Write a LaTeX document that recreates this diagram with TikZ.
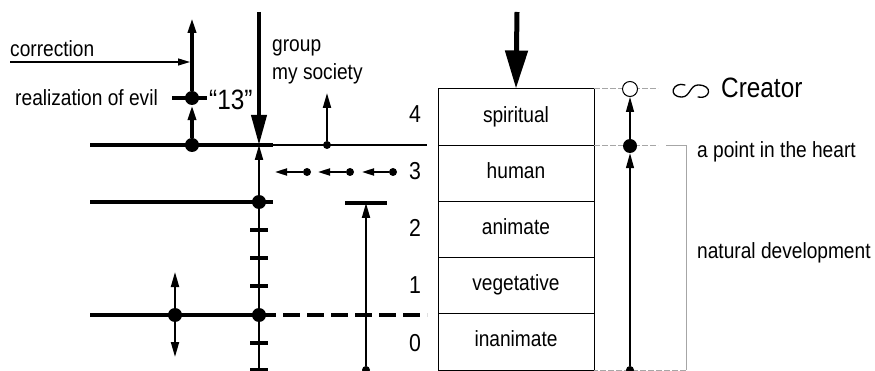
\documentclass[tikz,border=0pt]{standalone}
\usepackage{fontspec}
\setmainfont[FakeStretch=0.87]{Liberation Sans}
\usetikzlibrary{arrows.meta}
\begin{document}
\begin{tikzpicture}[x=1pt,y=-1pt,
  txt/.style={font=\fontsize{22}{25}\selectfont, inner sep=0pt},
  num/.style={font=\fontsize{24.5}{27}\selectfont, inner sep=0pt},
  row/.style={draw, line width=1pt, minimum width=156pt, minimum height=56.2pt, inner sep=0pt, text height=15pt, text depth=5pt, font=\fontsize{22}{25}\selectfont},
  bigdot/.style={circle, fill, inner sep=0pt, minimum size=14pt},
  smalldot/.style={circle, fill, inner sep=0pt, minimum size=8pt},
  opendot/.style={circle, draw, fill=white, line width=1pt, inner sep=0pt, minimum size=15pt},
  heavy/.style={line width=3.5pt},
  light/.style={line width=2pt},
  fine/.style={line width=1.2pt},
  greyline/.style={gray!70, line width=1pt},
  greydash/.style={gray!70, line width=1pt, dash pattern=on 6pt off 2pt},
  bigtip/.style={-{Triangle[length=38pt,width=22pt]}},
  medtip/.style={-{Triangle[length=30pt,width=15pt]}},
  smalltip/.style={-{Triangle[length=15pt,width=8pt]}},
  tinytip/.style={-{Triangle[length=12pt,width=7pt]}}
]
\useasboundingbox (0,0) rectangle (875,371);

% stack of levels
\node[row] (r4) at (516,117.1) {spiritual};
\node[row] (r3) at (516,173.3) {human};
\node[row] (r2) at (516,229.5) {animate};
\node[row] (r1) at (516,285.7) {vegetative};
\node[row] (r0) at (516,341.9) {inanimate};
\coordinate (topa) at (517,12);
\draw[line width=5pt, bigtip] (topa) -- (r4.north);

% level numbers
\node[num, anchor=base] (n4) at (415,123) {4};
\node[num, anchor=base] (n3) at (415,180) {3};
\node[num, anchor=base] (n2) at (415,237) {2};
\node[num, anchor=base] (n1) at (415,294) {1};
\node[num, anchor=base] (n0) at (415,351) {0};

% horizontal lines
\coordinate (l4a) at (90,145);
\coordinate (l4b) at (273,145);
\coordinate (l4c) at (427,145);
\draw[heavy] (l4a) -- (l4b);
\draw[light] (l4b) -- (l4c);
\coordinate (l2a) at (90,202);
\coordinate (l2b) at (273,202);
\draw[heavy] (l2a) -- (l2b);
\coordinate (l0a) at (90,315);
\coordinate (l0b) at (259,315);
\coordinate (l0c) at (427,315);
\draw[heavy] (l0a) -- (l0b);
\draw[heavy, dash pattern=on 17pt off 7pt] (l0b) -- (l0c);

% left column: realization of evil / correction
\node[bigdot] (A) at (192,145) {};
\node[bigdot] (B) at (192,98) {};
\coordinate (Bl) at (172,98);
\coordinate (Br) at (207,98);
\draw[heavy] (Bl) -- (Br);
\coordinate (Btop) at (192,18);
\draw[heavy, smalltip] (A) -- (B);
\draw[heavy, smalltip] (B) -- (Btop);
\coordinate (corrA) at (10,62);
\coordinate (corrB) at (190,62);
\draw[fine, tinytip] (corrA) -- (corrB);
\node[txt, anchor=base west] (tcorr) at (10,57) {correction};
\node[txt, anchor=base east] (tevil) at (158,106) {realization of evil};
\node[num, anchor=base west, font=\fontsize{28}{30}\selectfont] (t13) at (209,110) {“13”};

% group arrow
\coordinate (gtop) at (259,12);
\coordinate (J) at (259,145);
\draw[line width=4pt, medtip] (gtop) -- (J);
\node[txt, anchor=base west] (tgroup) at (272,52) {group};
\node[txt, anchor=base west] (tsoc) at (272,80) {my society};

% vertical scale at x=259
\coordinate (vbot) at (259,370);
\draw[light, smalltip] (vbot) -- (J);
\foreach \yy in {230,258,286,343,370} {
  \coordinate (ta\yy) at (250,\yy);
  \coordinate (tb\yy) at (268,\yy);
  \draw[heavy] (ta\yy) -- (tb\yy);
}
\node[bigdot] (C) at (259,202) {};
\node[bigdot] (D) at (259,315) {};

% double arrow at x=175
\node[bigdot] (E) at (175,315) {};
\coordinate (Eup) at (175,272);
\coordinate (Edn) at (175,357);
\draw[light, smalltip] (E) -- (Eup);
\draw[light, smalltip] (E) -- (Edn);

% society up arrow
\node[smalldot] (S) at (327,145) {};
\coordinate (Stop) at (327,93);
\draw[light, smalltip] (S) -- (Stop);

% small leftward arrows at level 3
\node[smalldot] (h1) at (393,172) {};
\coordinate (h1t) at (362,172);
\node[smalldot] (h2) at (350,172) {};
\coordinate (h2t) at (318,172);
\node[smalldot] (h3) at (307,172) {};
\coordinate (h3t) at (275,172);
\draw[light, tinytip] (h1) -- (h1t);
\draw[light, tinytip] (h2) -- (h2t);
\draw[light, tinytip] (h3) -- (h3t);

% arrow at x=366 up to bar
\node[smalldot] (Q) at (366,370) {};
\coordinate (Qt) at (366,203);
\coordinate (Qa) at (345,203);
\coordinate (Qb) at (387,203);
\draw[light, smalltip] (Q) -- (Qt);
\draw[heavy] (Qa) -- (Qb);

% right side
\coordinate (g1a) at (594,89);
\coordinate (g1b) at (658,89);
\draw[greydash] (g1a) -- (g1b);
\coordinate (g2a) at (594,146);
\coordinate (g2b) at (658,146);
\draw[greydash] (g2a) -- (g2b);
\coordinate (br1) at (666,146);
\coordinate (br2) at (686,146);
\coordinate (br3) at (686,370);
\coordinate (br4) at (594,370);
\draw[greyline] (br1) -- (br2) -- (br3);
\draw[greydash] (br3) -- (br4);

\node[opendot] (O) at (630,89) {};
\node[bigdot] (P) at (630,146) {};
\node[smalldot] (R) at (630,370) {};
\draw[fine, smalltip] (R) -- (P);
\draw[fine, smalltip] (P) -- (O);

% inverted lazy s sign
\coordinate (s1) at (685,85);
\coordinate (s2) at (682,97);
\coordinate (s3) at (698,85);
\coordinate (s4) at (698,97);
\draw[line width=1.3pt, line cap=round]
  (s1) .. controls (673,81) and (667,97) .. (s2)
       .. controls (690,97) and (690,85) .. (s3)
       .. controls (714,85) and (710,100) .. (s4);
\node[inner sep=0pt, anchor=base west, font=\fontsize{28}{30}\selectfont] (tcre) at (721,98) {Creator};
\node[txt, anchor=base west] (theart) at (697,158) {a point in the heart};
\node[txt, anchor=base west] (tnat) at (697,259) {natural development};
\end{tikzpicture}
\end{document}
